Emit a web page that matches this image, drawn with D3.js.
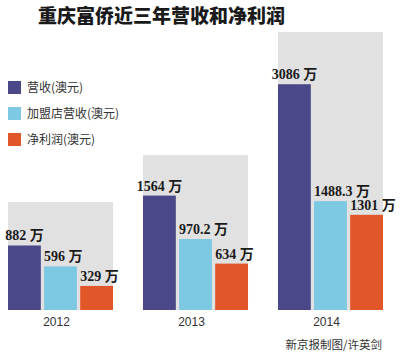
<!DOCTYPE html>
<html>
<head>
<meta charset="utf-8">
<script src="https://cdn.jsdelivr.net/npm/d3@7"></script>
<style>
  html, body { margin: 0; padding: 0; background: #fff; }
  svg { display: block; }
</style>
</head>
<body>
<div id="chart"></div>
<script>
// data (万)
const years = ['2012', '2013', '2014'];
const seriesNames = ['营收(澳元)', '加盟店营收(澳元)', '净利润(澳元)'];
const revenue = [882, 1564, 3086];
const franchiseRevenue = [596, 970.2, 1488.3];
const netProfit = [329, 634, 1301];
const labelText = [
  ['882 万', '1564 万', '3086 万'],
  ['596 万', '970.2 万', '1488.3 万'],
  ['329 万', '634 万', '1301 万'],
];
// grey panel behind each year, in the same units
const panelTop = [1475, 2117, 3800];

const colors = ['#4a4888', '#7dc8e2', '#e2572a'];
const width = 400, height = 353;

const svg = d3.select('#chart').append('svg')
  .attr('width', width).attr('height', height);

svg.append('text')
  .attr('x', 38).attr('y', 23)
  .attr('font-family', '"Noto Sans CJK SC", sans-serif')
  .attr('font-weight', 900).attr('font-size', 19)
  .attr('fill', '#1a1a1a')
  .text('重庆富侨近三年营收和净利润');

const x0 = d3.scaleBand().domain(years).range([8, 383]).paddingInner(0.222);
const x1 = d3.scaleBand().domain(d3.range(3)).range([0, x0.bandwidth()]).paddingInner(0.09);
const y = d3.scaleLinear().domain([0, 3800]).range([310, 32]);

const series = [revenue, franchiseRevenue, netProfit];

const groups = svg.selectAll('g.year').data(years).join('g')
  .attr('class', 'year')
  .attr('transform', d => `translate(${x0(d)},0)`);

groups.append('rect')
  .attr('x', 0).attr('width', x0.bandwidth())
  .attr('y', (d, i) => y(panelTop[i]))
  .attr('height', (d, i) => y(0) - y(panelTop[i]))
  .attr('fill', '#e1e1e1');

groups.each(function(yr, yi) {
  const g = d3.select(this);
  const rows = series.map((s, si) => ({ si, v: s[yi], label: labelText[si][yi] }));
  g.selectAll('rect.bar').data(rows).join('rect')
    .attr('class', 'bar')
    .attr('x', d => x1(d.si)).attr('width', x1.bandwidth())
    .attr('y', d => y(d.v)).attr('height', d => y(0) - y(d.v))
    .attr('fill', d => colors[d.si]);
  g.selectAll('text.val').data(rows).join('text')
    .attr('class', 'val')
    .attr('x', d => d.si === 0 ? x1(d.si) + x1.bandwidth() / 2 : x1(d.si))
    .attr('y', d => y(d.v) - 5)
    .attr('text-anchor', d => d.si === 0 ? 'middle' : 'start')
    .attr('font-family', '"Liberation Serif", "Noto Sans CJK SC", serif')
    .attr('font-weight', 'bold').attr('font-size', 14)
    .attr('fill', '#1a1a1a')
    .text(d => d.label);
});

svg.selectAll('text.yr').data(years).join('text')
  .attr('class', 'yr')
  .attr('x', d => x0(d) + x0.bandwidth() / 2 - 4)
  .attr('y', 326)
  .attr('text-anchor', 'middle')
  .attr('font-family', '"Liberation Sans", Arial, sans-serif')
  .attr('font-size', 12).attr('fill', '#333')
  .text(d => d);

const legend = svg.selectAll('g.leg').data(seriesNames).join('g')
  .attr('class', 'leg')
  .attr('transform', (d, i) => `translate(8,${81 + i * 26})`);
legend.append('rect').attr('width', 13).attr('height', 13)
  .attr('fill', (d, i) => colors[i]);
legend.append('text')
  .attr('x', 19).attr('y', 11)
  .attr('font-family', '"Noto Sans CJK SC", sans-serif')
  .attr('font-size', 12).attr('fill', '#333')
  .text(d => d);

svg.append('text')
  .attr('x', 382).attr('y', 349)
  .attr('text-anchor', 'end')
  .attr('font-family', '"Noto Sans CJK SC", sans-serif')
  .attr('font-size', 11.5).attr('fill', '#333')
  .text('新京报制图/许英剑');
</script>
</body>
</html>
